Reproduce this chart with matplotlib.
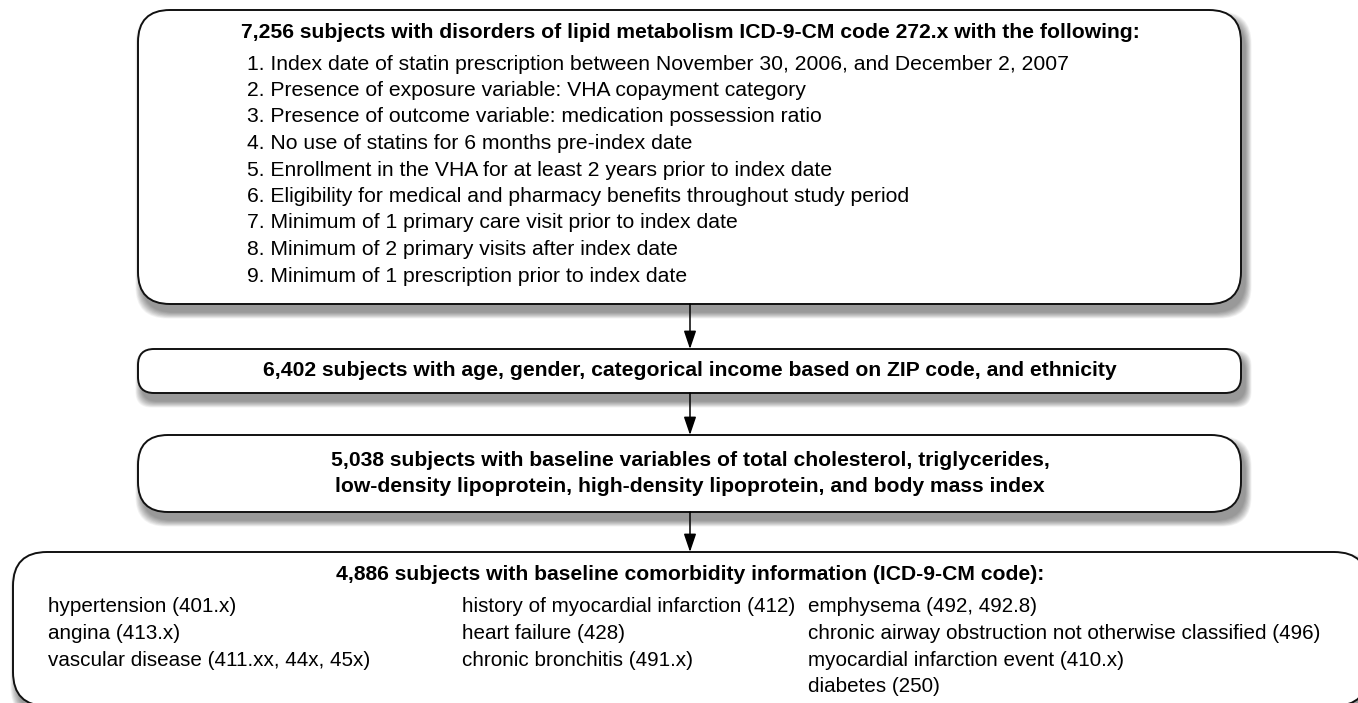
import matplotlib
matplotlib.use("Agg")
import matplotlib.pyplot as plt
from matplotlib.patches import FancyBboxPatch, FancyArrowPatch

plt.rcParams['font.family'] = ['Liberation Sans', 'DejaVu Sans']

title1 = "7,256 subjects with disorders of lipid metabolism ICD-9-CM code 272.x with the following:"
criteria = [
    "1. Index date of statin prescription between November 30, 2006, and December 2, 2007",
    "2. Presence of exposure variable: VHA copayment category",
    "3. Presence of outcome variable: medication possession ratio",
    "4. No use of statins for 6 months pre-index date",
    "5. Enrollment in the VHA for at least 2 years prior to index date",
    "6. Eligibility for medical and pharmacy benefits throughout study period",
    "7. Minimum of 1 primary care visit prior to index date",
    "8. Minimum of 2 primary visits after index date",
    "9. Minimum of 1 prescription prior to index date",
]
title2 = "6,402 subjects with age, gender, categorical income based on ZIP code, and ethnicity"
title3 = ["5,038 subjects with baseline variables of total cholesterol, triglycerides,",
          "low-density lipoprotein, high-density lipoprotein, and body mass index"]
title4 = "4,886 subjects with baseline comorbidity information (ICD-9-CM code):"
col1 = ["hypertension (401.x)", "angina (413.x)", "vascular disease (411.xx, 44x, 45x)"]
col2 = ["history of myocardial infarction (412)", "heart failure (428)", "chronic bronchitis (491.x)"]
col3 = ["emphysema (492, 492.8)", "chronic airway obstruction not otherwise classified (496)",
        "myocardial infarction event (410.x)", "diabetes (250)"]

W, H = 1358, 703
fig = plt.figure(figsize=(W / 100, H / 100), dpi=100)
ax = fig.add_axes([0, 0, 1, 1])
ax.set_xlim(0, W)
ax.set_ylim(H, 0)
ax.axis('off')

def box(x0, y0, x1, y1, r):
    # soft shadow
    for i in range(12, 0, -1):
        pad = i * 1.1
        ax.add_patch(FancyBboxPatch((x0 + 4 - pad / 2, y0 + 8 - pad / 2),
                                    (x1 - x0) + pad, (y1 - y0) + pad,
                                    boxstyle=f"round,pad=0,rounding_size={r}",
                                    facecolor='black', edgecolor='none',
                                    alpha=0.04, zorder=1))
    ax.add_patch(FancyBboxPatch((x0, y0), x1 - x0, y1 - y0,
                                boxstyle=f"round,pad=0,rounding_size={r}",
                                facecolor='white', edgecolor='#111111',
                                linewidth=1.4, zorder=2))

def arrow(x, y0, y1):
    ax.add_patch(FancyArrowPatch((x, y0), (x, y1), arrowstyle='-|>,head_length=5,head_width=1.7',
                                 mutation_scale=2.2, color='black', linewidth=1.1,
                                 shrinkA=0, shrinkB=0, zorder=3))

fs = 15.2
fs4 = 14.9
# Box 1
box(138, 10, 1241, 304, 32)
ax.text(690, 32, title1, ha='center', va='center', fontsize=fs, fontweight='bold', zorder=4)
for i, line in enumerate(criteria):
    ax.text(247, 64 + i * 26.5, line, ha='left', va='center', fontsize=fs, zorder=4)

arrow(690, 304, 349)
# Box 2
box(138, 349, 1241, 393, 16)
ax.text(690, 371, title2, ha='center', va='center', fontsize=fs, fontweight='bold', zorder=4)

arrow(690, 393, 435)
# Box 3
box(138, 435, 1241, 512, 30)
ax.text(690, 460, title3[0], ha='center', va='center', fontsize=fs, fontweight='bold', zorder=4)
ax.text(690, 487, title3[1], ha='center', va='center', fontsize=fs, fontweight='bold', zorder=4)

arrow(690, 512, 552)
# Box 4
box(13, 552, 1368, 706, 34)
ax.text(690, 575, title4, ha='center', va='center', fontsize=fs, fontweight='bold', zorder=4)
for xs, col in zip([48, 462, 808], [col1, col2, col3]):
    for i, line in enumerate(col):
        ax.text(xs, 607 + i * 26.6, line, ha='left', va='center', fontsize=fs4, zorder=4)

fig.savefig("out.png", dpi=100, facecolor='white')
